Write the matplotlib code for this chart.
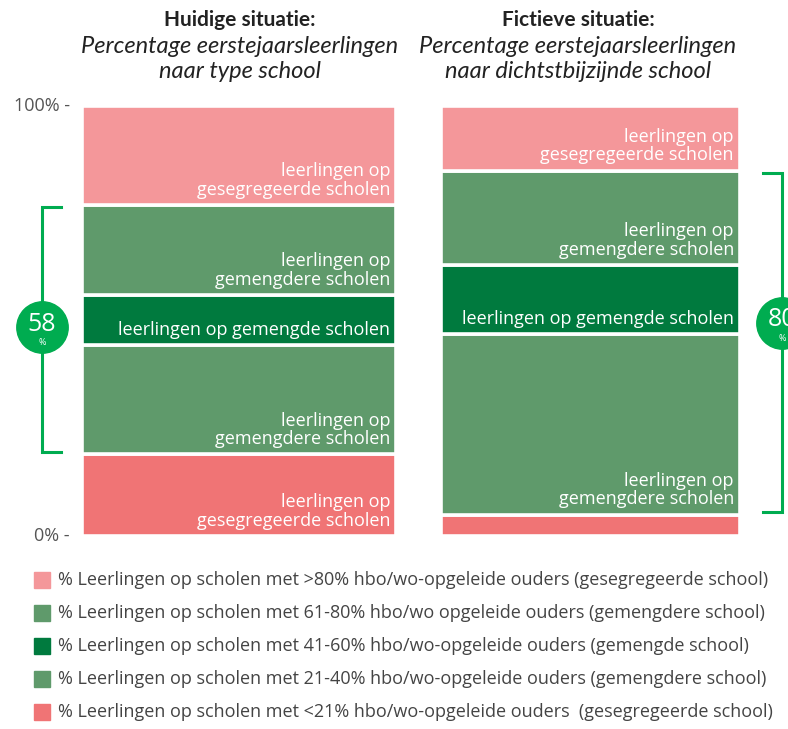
import numpy as np
import matplotlib.pyplot as plt

plt.rcParams['font.family'] = ['Open Sans', 'DejaVu Sans']

# segment shares (%), bottom to top
segments = ["<21%", "21-40%", "41-60%", "61-80%", ">80%"]
huidig = [19, 25.5, 11.5, 21, 23]
fictief = [5, 42, 16, 22, 15]
bracket_totals = [58, 80]

colors = ["#F07475", "#5F9A6B", "#007A3E", "#5F9A6B", "#F4979A"]
seg_labels = ["leerlingen op\ngesegregeerde scholen",
              "leerlingen op\ngemengdere scholen",
              "leerlingen op gemengde scholen",
              "leerlingen op\ngemengdere scholen",
              "leerlingen op\ngesegregeerde scholen"]

titles = ["Huidige situatie:", "Fictieve situatie:"]
subtitles = ["Percentage eerstejaarsleerlingen\nnaar type school",
             "Percentage eerstejaarsleerlingen\nnaar dichtstbijzijnde school"]

legend_labels = [
    "% Leerlingen op scholen met >80% hbo/wo-opgeleide ouders (gesegregeerde school)",
    "% Leerlingen op scholen met 61-80% hbo/wo opgeleide ouders (gemengdere school)",
    "% Leerlingen op scholen met 41-60% hbo/wo-opgeleide ouders (gemengde school)",
    "% Leerlingen op scholen met 21-40% hbo/wo-opgeleide ouders (gemengdere school)",
    "% Leerlingen op scholen met <21% hbo/wo-opgeleide ouders  (gesegregeerde school)",
]

W, H = 788, 729
fig = plt.figure(figsize=(W / 100, H / 100), dpi=100)
ax = fig.add_axes([0, 1 - 536 / H, 1, 430 / H])
ax.set_xlim(0, W)
ax.set_ylim(0, 100)
ax.axis("off")

# bar layout in pixel units along x
bar_x = [239.5, 590.5]
bar_w = [314, 299]
bracket_x = [42, 782]
arm_dir = [1, -1]
circle_y = [48.5, 49.5]
green = "#00AC50"

for i, data in enumerate([huidig, fictief]):
    bottoms = np.concatenate([[0], np.cumsum(data)[:-1]])
    ax.bar(bar_x[i], data, width=bar_w[i], bottom=bottoms, color=colors,
           edgecolor="white", linewidth=2.6)
    right = bar_x[i] + bar_w[i] / 2 - 6
    for j, (b, h) in enumerate(zip(bottoms, data)):
        if h < 8:
            continue
        ax.text(right, b + 1.4, seg_labels[j], ha="right", va="bottom",
                color="white", fontsize=13, linespacing=1.05)
    # bracket around middle three segments
    lo = bottoms[1] + 0.6
    hi = bottoms[4] - 0.6
    bx = bracket_x[i]
    arm = bx + arm_dir[i] * 19
    ax.plot([arm, bx, bx, arm], [lo, lo, hi, hi], color=green, lw=2.2,
            solid_joinstyle="miter", clip_on=False)
    ax.plot(bx, circle_y[i], "o", ms=37, color=green, clip_on=False)
    ax.text(bx, circle_y[i] + 0.8, str(bracket_totals[i]), ha="center",
            va="center", color="white", fontsize=18)
    ax.text(bx, circle_y[i] - 3.6, "%", ha="center", va="center",
            color="white", fontsize=6.5)

# y labels
ax.text(70, 100, "100% -", ha="right", va="center", color="#555555", fontsize=13)
ax.text(70, 0, "0% -", ha="right", va="center", color="#555555", fontsize=13)

# titles
title_x = [240, 578]
for i in range(2):
    fig.text(title_x[i] / W, 1 - 20 / H, titles[i], ha="center", va="center",
             fontsize=15, fontweight="bold", color="#222222",
             family=["Lato", "DejaVu Sans"])
    fig.text(title_x[i] / W, 1 - 59 / H, subtitles[i], ha="center", va="center",
             fontsize=17, style="italic", color="#222222", linespacing=1.2,
             family=["Lato", "DejaVu Sans"])

# legend
leg_colors = colors[::-1]
for k, lab in enumerate(legend_labels):
    y = 1 - (580 + 33 * k) / H
    fig.patches.append(plt.Rectangle((34 / W, y - 8 / H), 16 / W, 16 / H,
                                     transform=fig.transFigure,
                                     color=leg_colors[k]))
    fig.text(58 / W, y, lab, ha="left", va="center", fontsize=13,
             color="#444444")

fig.savefig("out.png", dpi=100, facecolor="white")
